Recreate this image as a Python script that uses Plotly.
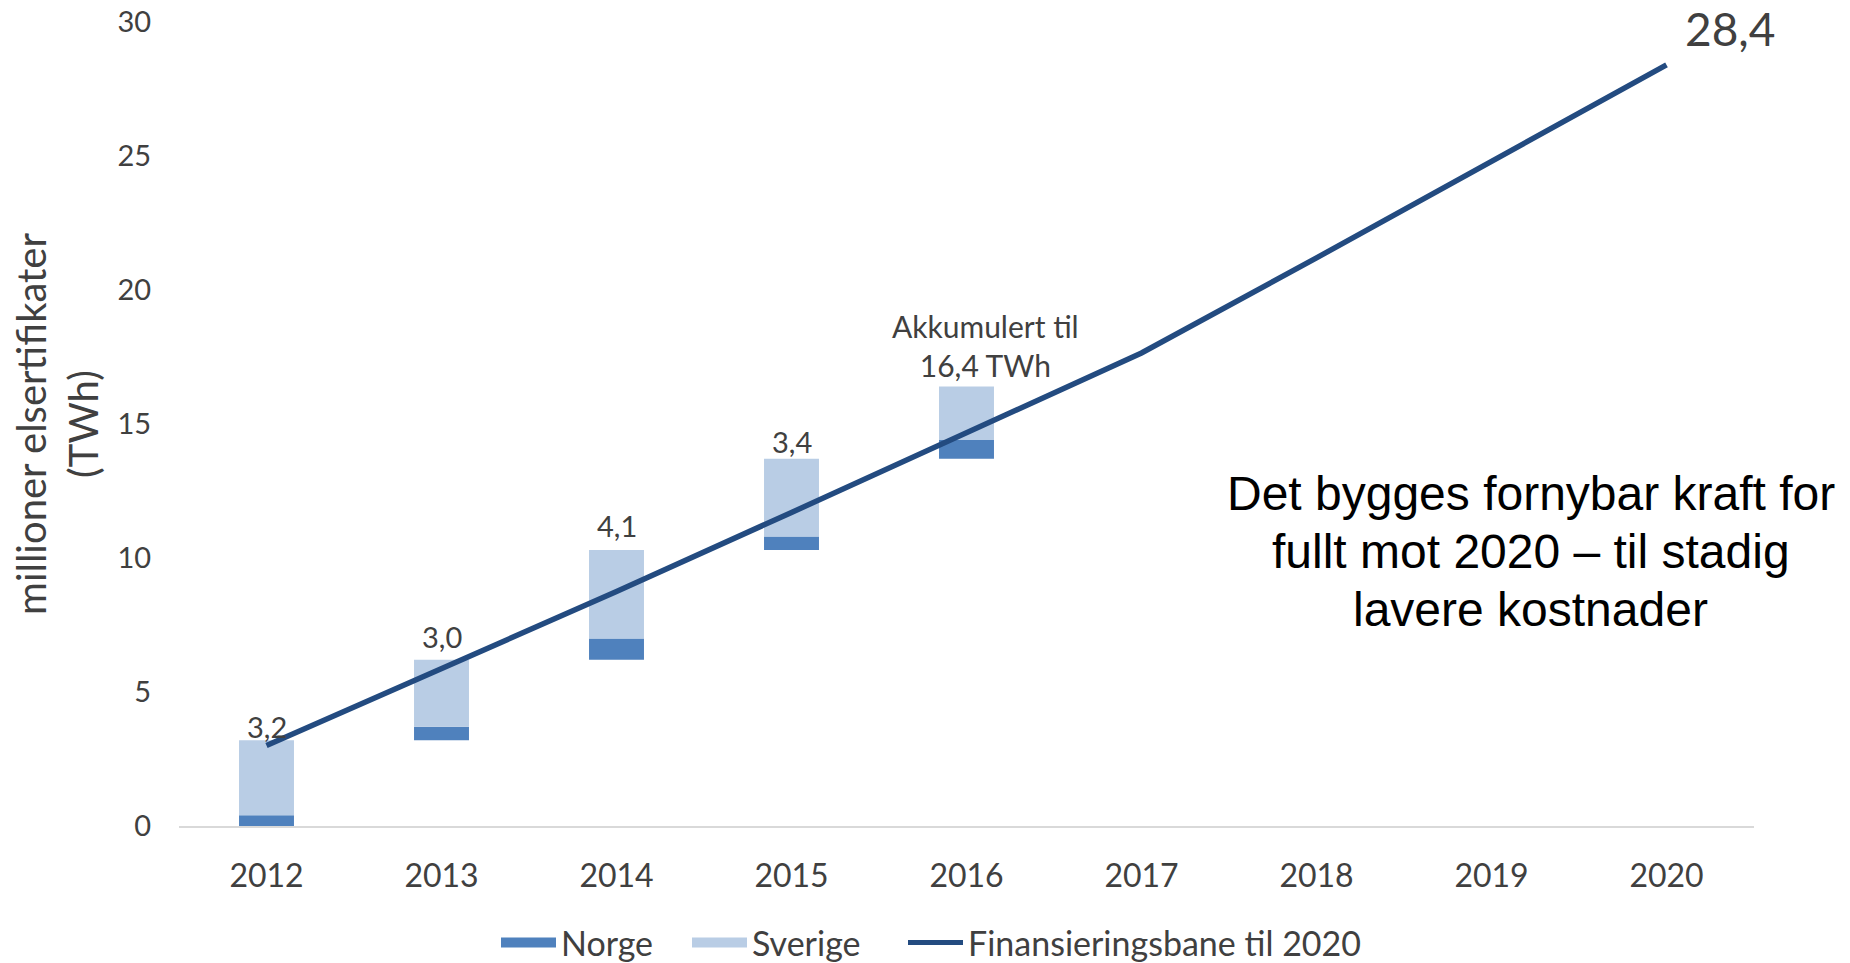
import plotly.graph_objects as go

# ---- data ----
years = ["2012", "2013", "2014", "2015", "2016", "2017", "2018", "2019", "2020"]
bar_years = ["2012", "2013", "2014", "2015", "2016"]
norge = [0.4, 0.5, 0.8, 0.5, 0.7]
sverige = [2.8, 2.5, 3.3, 2.9, 2.0]
finansieringsbane = [3.0, 5.85, 8.75, 11.7, 14.7, 17.65, 21.2, 24.8, 28.4]
y_ticks = [0, 5, 10, 15, 20, 25, 30]
message_lines = ["Det bygges fornybar kraft for", "fullt mot 2020 – til stadig", "lavere kostnader"]

# ---- derived ----
totals = [n + s for n, s in zip(norge, sverige)]
base = []
acc = 0.0
for t in totals:
    base.append(acc)
    acc += t
tops = [b + t for b, t in zip(base, totals)]
sverige_base = [b + n for b, n in zip(base, norge)]


def fmt(v):
    return f"{v:.1f}".replace(".", ",")


labels = [fmt(t) for t in totals[:-1]] + [f"Akkumulert til<br>{fmt(acc)} TWh"]

# ---- style ----
TXT = "#404040"
FONT = "Lato, 'Noto Sans', sans-serif"
C_NORGE = "#4F81BD"
C_SVERIGE = "#B9CDE5"
C_LINE = "#234B80"
label_yshift = [-6, 4, 5, -2, 1]   # px nudges of the bar labels
label_xshift = [0, 0, 0, 0, 19]

W, H = 1850, 963

fig = go.Figure()
fig.add_trace(go.Bar(
    x=bar_years, y=norge, base=base, name="Norge", legendgroup="norge",
    marker=dict(color=C_NORGE, line=dict(width=0)), showlegend=False,
    hoverinfo="skip",
))
fig.add_trace(go.Bar(
    x=bar_years, y=sverige, base=sverige_base, name="Sverige", legendgroup="sverige",
    marker=dict(color=C_SVERIGE, line=dict(width=0)), showlegend=False,
    hoverinfo="skip",
))
fig.add_trace(go.Scatter(
    x=years, y=finansieringsbane, mode="lines", name="Finansieringsbane til 2020",
    line=dict(color=C_LINE, width=5.5), showlegend=False, legendgroup="line",
    hoverinfo="skip",
))
# legend entries (wide swatches like the original)
fig.add_trace(go.Scatter(x=[None], y=[None], mode="lines", name="Norge",
                         legendgroup="norge", legendwidth=121,
                         line=dict(color=C_NORGE, width=19)))
fig.add_trace(go.Scatter(x=[None], y=[None], mode="lines", name="Sverige",
                         legendgroup="sverige", legendwidth=146,
                         line=dict(color=C_SVERIGE, width=19)))
fig.add_trace(go.Scatter(x=[None], y=[None], mode="lines", name="Finansieringsbane til 2020",
                         legendgroup="line", line=dict(color=C_LINE, width=5)))

annotations = []
for i, (top, lab) in enumerate(zip(tops, labels)):
    last = i == len(labels) - 1
    annotations.append(dict(
        x=i, y=top, xref="x", yref="y", text=lab, showarrow=False,
        yanchor="bottom", xanchor="center",
        xshift=label_xshift[i], yshift=label_yshift[i],
        font=dict(family=FONT, size=30 if last else 29, color=TXT),
    ))
annotations.append(dict(
    x=len(years) - 1, y=finansieringsbane[-1], xref="x", yref="y",
    text=fmt(finansieringsbane[-1]), showarrow=False,
    xanchor="center", yanchor="middle", xshift=63, yshift=36,
    font=dict(family=FONT, size=46, color=TXT),
))
for line_text, ly in zip(message_lines, [0.413, 0.3408, 0.2687]):
    annotations.append(dict(
        x=0.8584, y=ly, xref="paper", yref="paper", text=line_text,
        showarrow=False, xanchor="center", yanchor="middle",
        font=dict(family="'Liberation Sans', Arial, sans-serif", size=48, color="#000000"),
    ))

fig.update_layout(
    width=W, height=H,
    margin=dict(l=179, r=96, t=22, b=137, autoexpand=False),
    paper_bgcolor="white", plot_bgcolor="white",
    barmode="overlay", bargap=0.686,
    font=dict(family=FONT, color=TXT),
    showlegend=True,
    legend=dict(
        orientation="h", xref="container", x=496 / W, xanchor="left",
        yref="container", y=20 / H, yanchor="middle",
        font=dict(family=FONT, size=34, color=TXT),
        itemwidth=55, traceorder="normal",
    ),
    annotations=annotations,
    xaxis=dict(
        type="category", range=[-0.5, 8.5], automargin=False,
        showline=True, linecolor="#D9D9D9", linewidth=1.5,
        showgrid=False, zeroline=False,
        ticks="outside", ticklen=21, tickcolor="rgba(0,0,0,0)",
        tickfont=dict(family=FONT, size=32, color=TXT),
    ),
    yaxis=dict(
        range=[0, 30], tickvals=y_ticks, automargin=False,
        ticklabeloverflow="allow",
        showline=False, showgrid=False, zeroline=False,
        ticks="outside", ticklen=21, tickcolor="rgba(0,0,0,0)",
        tickfont=dict(family=FONT, size=29, color=TXT),
        title=dict(text="millioner elsertifikater<br>(TWh)", standoff=6,
                   font=dict(family=FONT, size=40, color=TXT)),
    ),
)

# place the figure at the page's top-left corner (no default body margin)
fig.write_html(
    "out.html",
    config={"displayModeBar": False},
    post_script="document.body.style.margin='0px';",
)
